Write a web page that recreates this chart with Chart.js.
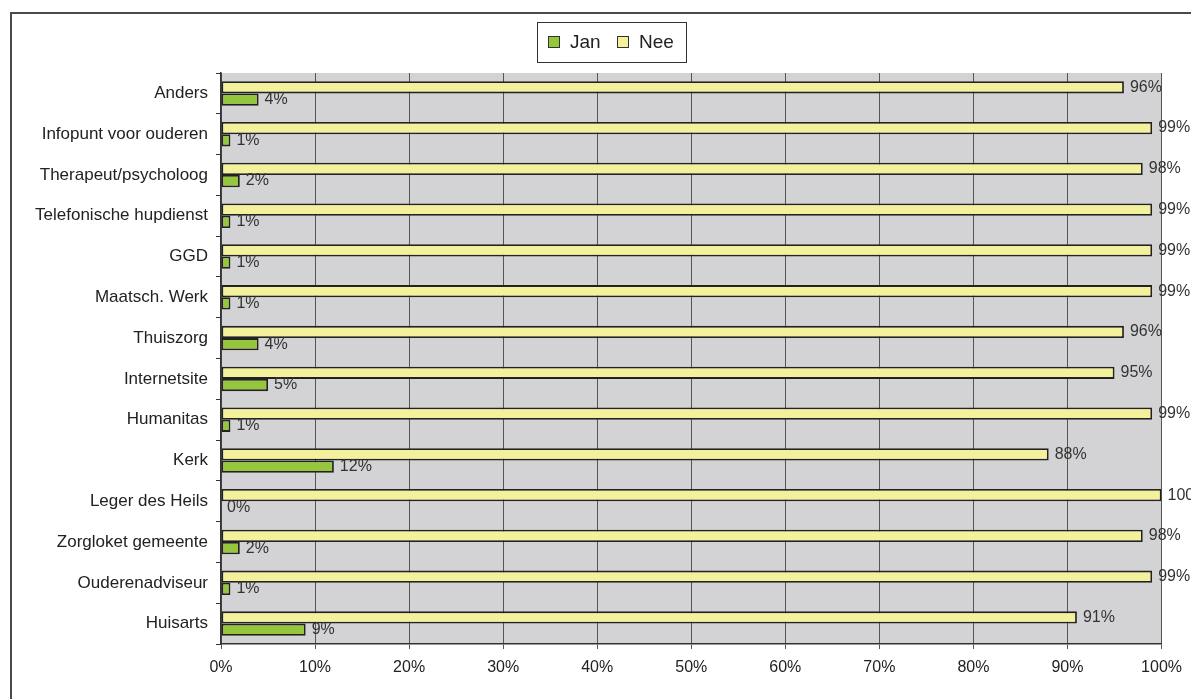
<!DOCTYPE html>
<html>
<head>
<meta charset="utf-8">
<script src="https://cdn.jsdelivr.net/npm/chart.js@4/dist/chart.umd.min.js"></script>
<style>
  body { margin: 0; background: #fff; }
  canvas { display: block; }
</style>
</head>
<body>
<canvas id="bronChart" width="1191" height="699"></canvas>
<script>
// categories, bottom to top (as in the original spreadsheet)
const bronnen = ["Huisarts","Ouderenadviseur","Zorgloket gemeente","Leger des Heils","Kerk",
  "Humanitas","Internetsite","Thuiszorg","Maatsch. Werk","GGD","Telefonische hupdienst",
  "Therapeut/psycholoog","Infopunt voor ouderen","Anders"];

const jan = [9,1,2,0,12,1,5,4,1,1,1,2,1,4];
const nee = [91,99,98,100,88,99,95,96,99,99,99,98,99,96];

const xTicks = [0,10,20,30,40,50,60,70,80,90,100];

const fontFam = "'Liberation Sans', Arial, sans-serif";

// grey plot area + outer frame
const background = {
  id: "background",
  beforeDraw(chart) {
    const ctx = chart.ctx, a = chart.chartArea;
    ctx.save();
    ctx.fillStyle = "#d3d3d5";
    ctx.fillRect(a.left, a.top, a.right - a.left, a.bottom - a.top);
    ctx.strokeStyle = "#4a4a4a";
    ctx.lineWidth = 2;
    ctx.strokeRect(11, 13, 1400, 900);
    ctx.restore();
  }
};

// value labels right of each bar
const valueLabels = {
  id: "valueLabels",
  afterDatasetsDraw(chart) {
    const ctx = chart.ctx;
    ctx.save();
    ctx.font = "16px " + fontFam;
    ctx.fillStyle = "#333";
    ctx.textBaseline = "middle";
    ctx.textAlign = "left";
    chart.data.datasets.forEach((ds, i) => {
      chart.getDatasetMeta(i).data.forEach((bar, j) => {
        ctx.fillText(ds.data[j] + "%", bar.x + 6, bar.y);
      });
    });
    ctx.restore();
  }
};

// boxed legend at the top (Jan first)
const boxLegend = {
  id: "boxLegend",
  afterDraw(chart) {
    const ctx = chart.ctx;
    ctx.save();
    ctx.strokeStyle = "#333";
    ctx.lineWidth = 1;
    ctx.strokeRect(537.5, 22.5, 149, 40);
    ctx.font = "19px " + fontFam;
    ctx.textBaseline = "middle";
    let x = 548;
    chart.data.datasets.slice().reverse().forEach(ds => {
      ctx.fillStyle = ds.backgroundColor;
      ctx.fillRect(x, 36, 12, 12);
      ctx.strokeStyle = "#333";
      ctx.strokeRect(x + 0.5, 36.5, 11, 11);
      ctx.fillStyle = "#222";
      ctx.fillText(ds.label, x + 22, 43);
      x += 69;
    });
    ctx.restore();
  }
};

new Chart(document.getElementById("bronChart"), {
  type: "bar",
  data: {
    labels: bronnen,
    datasets: [
      { label: "Nee", data: nee, backgroundColor: "#f4f19c" },
      { label: "Jan", data: jan, backgroundColor: "#96c63c" }
    ]
  },
  options: {
    indexAxis: "y",
    responsive: false,
    animation: false,
    layout: { padding: { top: 73, right: 29, left: 0, bottom: 0 } },
    datasets: {
      bar: {
        categoryPercentage: 0.6,
        barPercentage: 1,
        borderColor: "#222",
        borderWidth: 1.8,
        borderSkipped: false
      }
    },
    plugins: {
      legend: { display: false },
      tooltip: { enabled: false }
    },
    scales: {
      x: {
        min: 0,
        max: 100,
        afterBuildTicks(scale) { scale.ticks = xTicks.map(v => ({ value: v })); },
        afterFit(scale) { scale.height = 55; },
        ticks: {
          callback: v => v + "%",
          color: "#222",
          padding: 9,
          font: { size: 16, family: fontFam }
        },
        grid: { color: "#555", lineWidth: 1, tickLength: 5 },
        border: { color: "#333", width: 1.5 }
      },
      y: {
        reverse: true,
        afterFit(scale) { scale.width = 221; },
        ticks: {
          color: "#222",
          padding: 8,
          font: { size: 17, family: fontFam }
        },
        grid: { drawOnChartArea: false, color: "#333", tickLength: 5, offset: true },
        border: { color: "#333", width: 1.5 }
      }
    }
  },
  plugins: [background, valueLabels, boxLegend]
});
</script>
</body>
</html>
